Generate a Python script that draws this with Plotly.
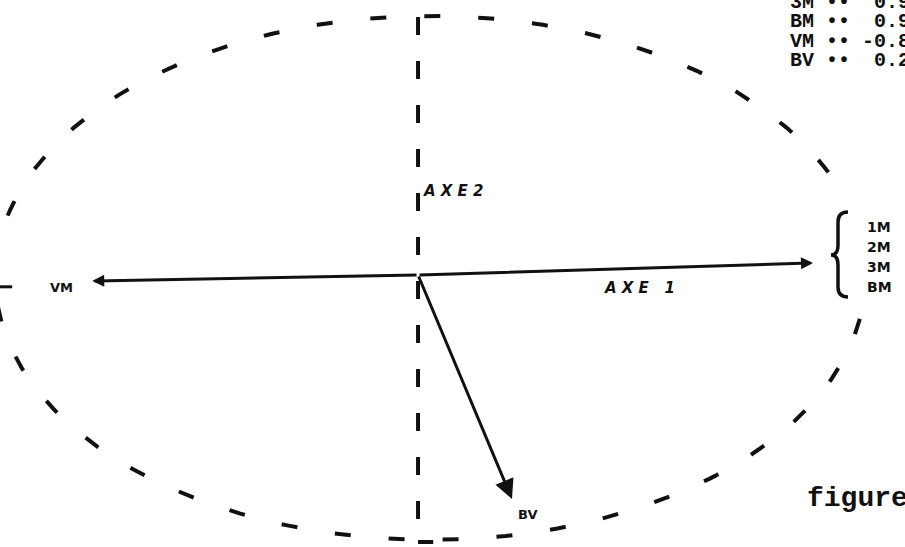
import numpy as np
import plotly.graph_objects as go

# coordonnees des variables sur le plan factoriel (axe 1, axe 2)
groupe_droite = ["1M", "2M", "3M", "BM"]
vecteurs = ["M", "VM", "BV"]
axe1 = [0.908, -0.749, 0.216]
axe2 = [0.046, -0.023, -0.855]

# tableau des correlations avec l'axe 1 (coin haut droit)
tableau_noms = ["3M", "BM", "VM", "BV"]
tableau_valeurs = ["0.9", "0.9", "-0.8", "0.2"]

# centre du cercle des correlations (leger decalage du trace)
CENTRE = (0.028, -0.011)
NOIR = "#111111"
L, H = 905, 547


def papier(x, y):
    # pixels -> coordonnees papier
    return x / L, 1 - y / H


fig = go.Figure()

# cercle des correlations en tirets, interrompu a droite (accolade)
t = np.radians(np.arange(-9, -341, -1))
fig.add_trace(
    go.Scatter(
        x=CENTRE[0] + np.cos(t), y=CENTRE[1] + np.sin(t),
        mode="lines", hoverinfo="skip",
        line=dict(color=NOIR, width=4, dash="16px,38px"),
    )
)

# axe 2 vertical en tirets, avec son pied
fig.add_shape(
    type="line", xref="x", yref="y",
    x0=0, x1=0, y0=0.985, y1=-1.019,
    line=dict(color=NOIR, width=4, dash="18px,26px"),
)
fig.add_shape(
    type="line", xref="x", yref="y",
    x0=0, x1=0.035, y0=-1.019, y1=-1.019,
    line=dict(color=NOIR, width=4),
)

# prolongement de l'axe 1 a gauche
fig.add_shape(
    type="line", xref="x", yref="y",
    x0=-0.961, x1=-0.933, y0=-0.045, y1=-0.045,
    line=dict(color=NOIR, width=3),
)

# vecteurs
for nom, vx, vy in zip(vecteurs, axe1, axe2):
    fig.add_annotation(
        x=vx, y=vy, ax=0, ay=0,
        xref="x", yref="y", axref="x", ayref="y",
        text="", showarrow=True,
        arrowhead=2, arrowwidth=3,
        arrowsize=1.3 if nom == "BV" else 0.8,
        arrowcolor=NOIR, standoff=0,
    )

fonte_lab = dict(family="DejaVu Sans", size=13, color=NOIR)
fig.add_annotation(
    x=axe1[1], y=axe2[1], text="<b>VM</b>", showarrow=False,
    xanchor="right", xshift=-17, yshift=-6, font=fonte_lab,
)
fig.add_annotation(
    x=axe1[2], y=axe2[2], text="<b>BV</b>", showarrow=False,
    xanchor="left", yanchor="middle", xshift=4, yshift=-15, font=fonte_lab,
)

# accolade et variables regroupees
bx, by = papier(848, 212)
p = [papier(x, y) for x, y in [(838, 212), (838, 222), (838, 245), (838, 255), (831, 255),
                               (838, 255), (838, 265), (838, 287), (838, 297), (848, 297)]]
chemin = (
    f"M {bx},{by} Q {p[0][0]},{p[0][1]} {p[1][0]},{p[1][1]} L {p[2][0]},{p[2][1]} "
    f"Q {p[3][0]},{p[3][1]} {p[4][0]},{p[4][1]} Q {p[5][0]},{p[5][1]} {p[6][0]},{p[6][1]} "
    f"L {p[7][0]},{p[7][1]} Q {p[8][0]},{p[8][1]} {p[9][0]},{p[9][1]}"
)
fig.add_shape(type="path", xref="paper", yref="paper", path=chemin,
              line=dict(color=NOIR, width=3.5))
for i, nom in enumerate(groupe_droite):
    px, py = papier(865, 227 + 20 * i)
    fig.add_annotation(
        xref="paper", yref="paper", x=px, y=py, text=f"<b>{nom}</b>",
        showarrow=False, xanchor="left", yanchor="middle",
        font=dict(family="DejaVu Sans", size=14, color=NOIR),
    )

# titres des axes
fonte_axe = dict(family="DejaVu Sans", size=15, color=NOIR)
fig.add_annotation(
    x=0, y=0.32, text="<b><i>A X E\u00a02</i></b>", showarrow=False,
    xanchor="left", xshift=3, font=fonte_axe,
)
fig.add_annotation(
    x=0.423, y=-0.05, text="<b><i>A X E\u00a0\u00a0\u00a01</i></b>", showarrow=False,
    xanchor="left", font=fonte_axe,
)

# tableau du coin haut droit
for i, (nom, val) in enumerate(zip(tableau_noms, tableau_valeurs)):
    ligne = f"{nom} ••{val.rjust(5)}".replace(" ", "\u00a0")
    px, py = papier(788, 2 + 19.5 * i)
    fig.add_annotation(
        xref="paper", yref="paper", x=px, y=py, text=f"<b>{ligne}</b>",
        showarrow=False, xanchor="left", yanchor="middle",
        font=dict(family="Liberation Mono", size=20, color=NOIR),
    )

fx, fy = papier(805, 498)
fig.add_annotation(
    xref="paper", yref="paper", x=fx, y=fy,
    text="<b>figure</b>", showarrow=False,
    xanchor="left", yanchor="middle",
    font=dict(family="Liberation Mono", size=28, color=NOIR),
)

fig.update_xaxes(range=[-0.961, 1.1195], visible=False, showgrid=False, zeroline=False)
fig.update_yaxes(range=[-1.038, 1.0496], visible=False, showgrid=False, zeroline=False)
fig.update_layout(
    width=L,
    height=H,
    margin=dict(l=0, r=0, t=0, b=0),
    showlegend=False,
    plot_bgcolor="#ffffff",
    paper_bgcolor="#ffffff",
)

# la page ne doit pas ajouter de marge autour de la figure
fig.write_html(
    "out.html",
    config={"displayModeBar": False},
    post_script="document.body.style.margin = '0px';",
)
